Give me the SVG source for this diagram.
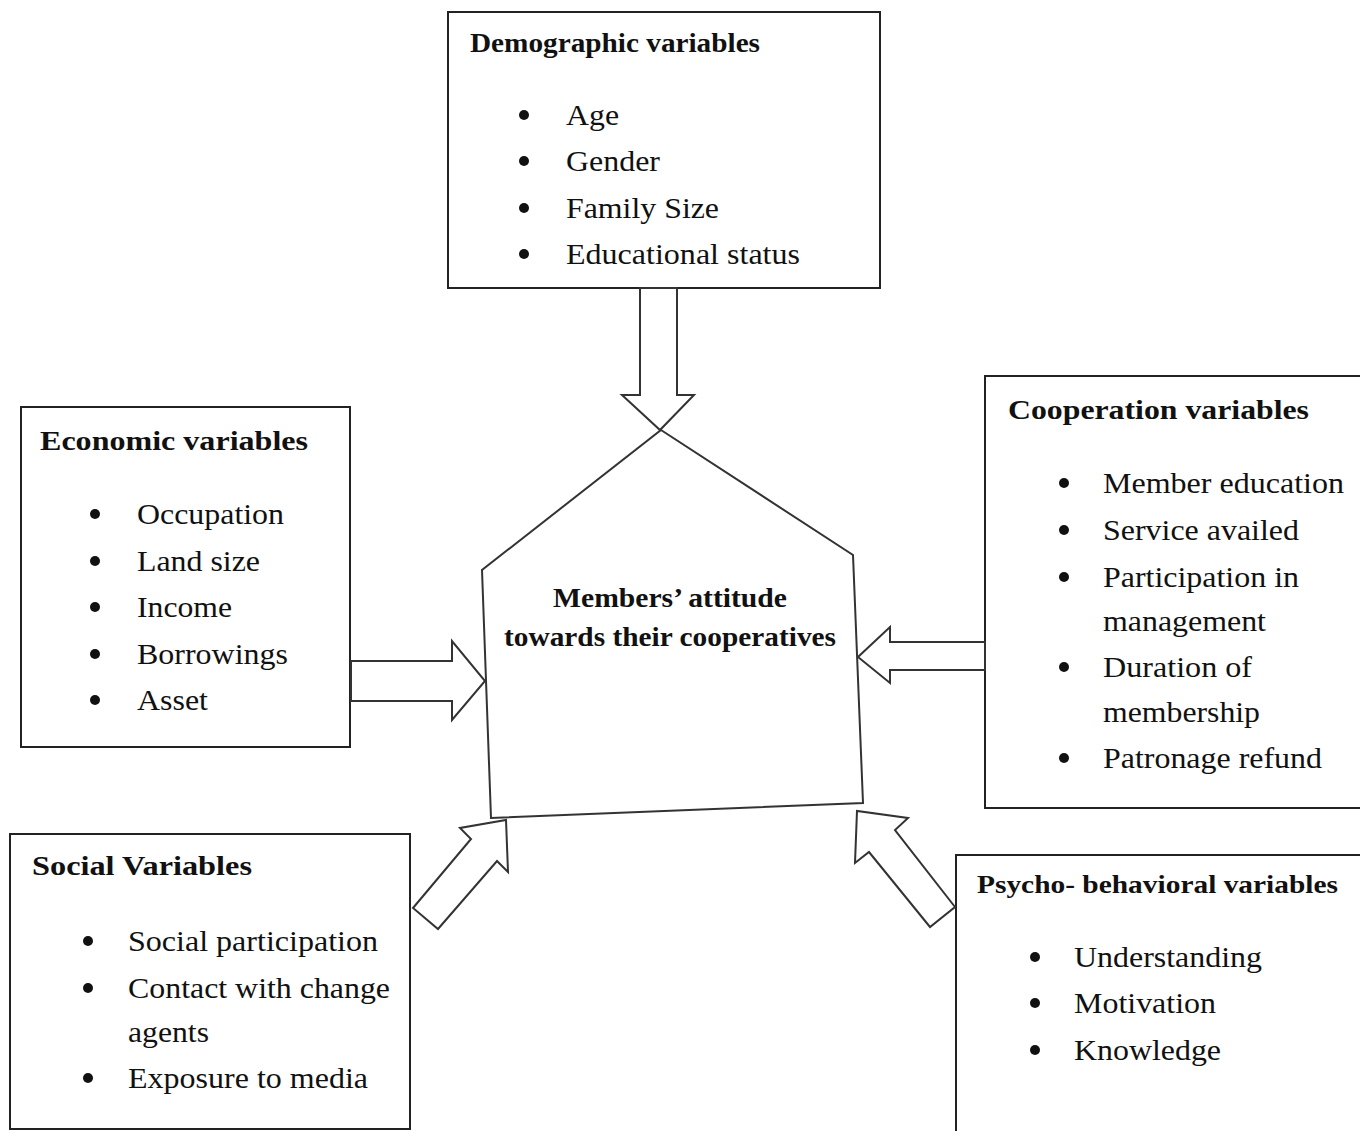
<svg xmlns="http://www.w3.org/2000/svg" width="1360" height="1131" viewBox="0 0 1360 1131">
<style>
.box{fill:#fff;stroke:#222;stroke-width:2}
.shape{fill:none;stroke:#333;stroke-width:2;stroke-linejoin:miter}
.t{font-family:"Liberation Serif","Times New Roman",serif;fill:#111}
.h{font-weight:bold;font-size:28px}
.i{font-size:30px}
.c{font-weight:bold;font-size:27px}
.b{fill:#111}
</style>
<rect width="1360" height="1131" fill="#fff"/>
<g id="center">
<polygon class="shape" points="661,430 853,555 863,803 491,818 482,570"/>
<text class="t c" x="553" y="607" textLength="234" lengthAdjust="spacingAndGlyphs">Members’ attitude</text>
<text class="t c" x="504" y="646" textLength="332" lengthAdjust="spacingAndGlyphs">towards their cooperatives</text>
</g>
<g id="demographic">
<rect class="box" x="448" y="12" width="432" height="276"/>
<text class="t h" x="470" y="52" textLength="290" lengthAdjust="spacingAndGlyphs">Demographic variables</text>
<circle class="b" cx="524" cy="115" r="5"/><text class="t i" x="566" y="125" textLength="53" lengthAdjust="spacingAndGlyphs">Age</text>
<circle class="b" cx="524" cy="161" r="5"/><text class="t i" x="566" y="171" textLength="94" lengthAdjust="spacingAndGlyphs">Gender</text>
<circle class="b" cx="524" cy="208" r="5"/><text class="t i" x="566" y="218" textLength="153" lengthAdjust="spacingAndGlyphs">Family Size</text>
<circle class="b" cx="524" cy="254" r="5"/><text class="t i" x="566" y="264" textLength="234" lengthAdjust="spacingAndGlyphs">Educational status</text>
</g>
<g id="economic">
<rect class="box" x="21" y="407" width="329" height="340"/>
<text class="t h" x="40" y="450" textLength="268" lengthAdjust="spacingAndGlyphs">Economic variables</text>
<circle class="b" cx="95" cy="514" r="5"/><text class="t i" x="137" y="524" textLength="147" lengthAdjust="spacingAndGlyphs">Occupation</text>
<circle class="b" cx="95" cy="561" r="5"/><text class="t i" x="137" y="571" textLength="123" lengthAdjust="spacingAndGlyphs">Land size</text>
<circle class="b" cx="95" cy="607" r="5"/><text class="t i" x="137" y="617" textLength="95" lengthAdjust="spacingAndGlyphs">Income</text>
<circle class="b" cx="95" cy="654" r="5"/><text class="t i" x="137" y="664" textLength="151" lengthAdjust="spacingAndGlyphs">Borrowings</text>
<circle class="b" cx="95" cy="700" r="5"/><text class="t i" x="137" y="710" textLength="71" lengthAdjust="spacingAndGlyphs">Asset</text>
</g>
<g id="cooperation">
<rect class="box" x="985" y="376" width="380" height="432"/>
<text class="t h" x="1008" y="419" textLength="301" lengthAdjust="spacingAndGlyphs">Cooperation variables</text>
<circle class="b" cx="1064" cy="483" r="5"/><text class="t i" x="1103" y="493" textLength="241" lengthAdjust="spacingAndGlyphs">Member education</text>
<circle class="b" cx="1064" cy="530" r="5"/><text class="t i" x="1103" y="540" textLength="196" lengthAdjust="spacingAndGlyphs">Service availed</text>
<circle class="b" cx="1064" cy="577" r="5"/><text class="t i" x="1103" y="587" textLength="196" lengthAdjust="spacingAndGlyphs">Participation in</text>
<text class="t i" x="1103" y="631" textLength="163" lengthAdjust="spacingAndGlyphs">management</text>
<circle class="b" cx="1064" cy="667" r="5"/><text class="t i" x="1103" y="677" textLength="149" lengthAdjust="spacingAndGlyphs">Duration of</text>
<text class="t i" x="1103" y="722" textLength="157" lengthAdjust="spacingAndGlyphs">membership</text>
<circle class="b" cx="1064" cy="758" r="5"/><text class="t i" x="1103" y="768" textLength="219" lengthAdjust="spacingAndGlyphs">Patronage refund</text>
</g>
<g id="social">
<rect class="box" x="10" y="834" width="400" height="295"/>
<text class="t h" x="32" y="875" textLength="220" lengthAdjust="spacingAndGlyphs">Social Variables</text>
<circle class="b" cx="88" cy="941" r="5"/><text class="t i" x="128" y="951" textLength="250" lengthAdjust="spacingAndGlyphs">Social participation</text>
<circle class="b" cx="88" cy="988" r="5"/><text class="t i" x="128" y="998" textLength="262" lengthAdjust="spacingAndGlyphs">Contact with change</text>
<text class="t i" x="128" y="1042" textLength="81" lengthAdjust="spacingAndGlyphs">agents</text>
<circle class="b" cx="88" cy="1078" r="5"/><text class="t i" x="128" y="1088" textLength="240" lengthAdjust="spacingAndGlyphs">Exposure to media</text>
</g>
<g id="psycho">
<rect class="box" x="956" y="855" width="410" height="290"/>
<text class="t h" x="977" y="893" font-size="26" style="font-size:26px" textLength="361" lengthAdjust="spacingAndGlyphs">Psycho- behavioral variables</text>
<circle class="b" cx="1035" cy="957" r="5"/><text class="t i" x="1074" y="967" textLength="188" lengthAdjust="spacingAndGlyphs">Understanding</text>
<circle class="b" cx="1035" cy="1003" r="5"/><text class="t i" x="1074" y="1013" textLength="142" lengthAdjust="spacingAndGlyphs">Motivation</text>
<circle class="b" cx="1035" cy="1050" r="5"/><text class="t i" x="1074" y="1060" textLength="147" lengthAdjust="spacingAndGlyphs">Knowledge</text>
</g>
<g id="connectors">
<polygon class="shape" points="640,288 640,395 622,395 660,430 694,395 677,395 677,288"/>
<polygon class="shape" points="351,661 452,661 452,641 485,681 452,720 452,701 351,701"/>
<polygon class="shape" points="985,642 890,642 890,627 858,657 890,683 890,670 985,670"/>
<polygon class="shape" points="413,908 471,839 460,828 506,820 508,872 497,861 438,929"/>
<polygon class="shape" points="955,907 895,830 908,818 857,811 855,863 869,852 930,927"/>
</g>
</svg>
